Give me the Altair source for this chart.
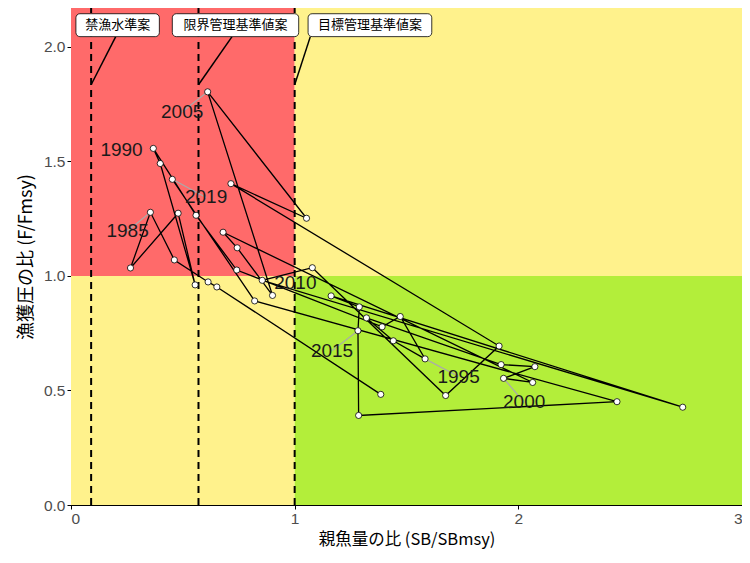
import altair as alt
import pandas as pd

years = list(range(1981, 2020))
sb_ratio = [1.385, 0.652, 0.613, 0.462, 0.355, 0.266, 0.479, 0.555, 0.399, 0.368,
            0.559, 0.741, 1.391, 1.472, 1.583, 1.441, 1.321, 1.923, 2.074, 1.934,
            2.064, 0.680, 0.743, 0.901, 0.611, 1.053, 0.715, 1.914, 1.675, 1.079,
            0.855, 2.735, 1.163, 1.289, 1.283, 1.286, 2.441, 0.821, 0.453]
f_ratio = [0.483, 0.952, 0.974, 1.070, 1.278, 1.035, 1.274, 0.961, 1.491, 1.557,
           1.265, 1.026, 0.778, 0.823, 0.638, 0.717, 0.817, 0.613, 0.604, 0.553,
           0.535, 1.191, 1.123, 0.915, 1.804, 1.252, 1.403, 0.694, 0.478, 1.036,
           0.981, 0.427, 0.913, 0.865, 0.761, 0.391, 0.451, 0.891, 1.422]

# reference points
ref_names = ["禁漁水準案", "限界管理基準値案", "目標管理基準値案"]
ref_values = [0.09, 0.57, 1.0]

# labelled years (text position) and whether a leader segment is drawn
label_years = [1985, 1990, 1995, 2000, 2005, 2010, 2015, 2019]
label_x = [0.253, 0.226, 1.733, 2.026, 0.497, 1.003, 1.167, 0.604]
label_y = [1.196, 1.552, 0.561, 0.448, 1.717, 0.970, 0.674, 1.343]
label_seg = [True, False, True, True, True, False, True, True]

X_MAX = 3.0
Y_MAX = 2.17

df = pd.DataFrame({"year": years, "sb": sb_ratio, "f": f_ratio})

zones = pd.DataFrame({
    "x": [0, 0, 1, 1], "x2": [1, 1, X_MAX, X_MAX],
    "y": [1, 0, 1, 0], "y2": [Y_MAX, 1, Y_MAX, 1],
    "zone": ["red", "yellow", "yellow2", "green"],
})
zone_colors = {"red": "#FF6A6A", "yellow": "#FFF28C", "yellow2": "#FFF28C", "green": "#B3EE3A"}
zones["color"] = zones["zone"].map(zone_colors)

xs = alt.Scale(domain=[0, X_MAX], nice=False, zero=False)
ys = alt.Scale(domain=[0, Y_MAX], nice=False, zero=False)

bg = alt.Chart(zones).mark_rect(opacity=1).encode(
    x=alt.X("x:Q", scale=xs, title="親魚量の比 (SB/SBmsy)",
            axis=alt.Axis(values=[0, 1, 2, 3], format="d", titleFontSize=16.5)),
    x2="x2:Q",
    y=alt.Y("y:Q", scale=ys, title="漁獲圧の比 (F/Fmsy)",
            axis=alt.Axis(values=[0, 0.5, 1.0, 1.5, 2.0], format=".1f", titleFontSize=18)),
    y2="y2:Q",
    color=alt.Color("color:N", scale=None),
)

refs = pd.DataFrame({"name": ref_names, "v": ref_values})
rules = alt.Chart(refs).mark_rule(color="black", strokeWidth=2, strokeDash=[7, 5]).encode(
    x=alt.X("v:Q", scale=xs),
    y=alt.datum(0),
    y2=alt.datum(Y_MAX),
)

# label boxes at top, with leader lines
box_x = [0.022, 0.453, 1.060]
box_x2 = [0.395, 1.018, 1.613]
box_cy = 2.095
boxes = pd.DataFrame({"name": ref_names, "v": ref_values, "bx": box_x, "bx2": box_x2})
boxes["by"] = box_cy - 0.05
boxes["by2"] = box_cy + 0.05
boxes["cx"] = (boxes["bx"] + boxes["bx2"]) / 2
boxes["lx"] = [0.20, 0.72, 1.07]
boxes["ly"] = box_cy - 0.05
boxes["ty"] = 1.835

leaders = alt.Chart(boxes).mark_rule(color="black", strokeWidth=1.5).encode(
    x=alt.X("lx:Q", scale=xs), y=alt.Y("ly:Q", scale=ys), x2="v:Q", y2="ty:Q"
)
box_rect = alt.Chart(boxes).mark_rect(fill="white", stroke="black", strokeWidth=0.8,
                                      cornerRadius=4).encode(
    x=alt.X("bx:Q", scale=xs), x2="bx2:Q", y=alt.Y("by:Q", scale=ys), y2="by2:Q"
)
box_text = alt.Chart(boxes).mark_text(font="Noto Sans CJK JP", fontSize=13, color="black").encode(
    x=alt.X("cx:Q", scale=xs), y=alt.Y("by:Q", scale=ys), text="name:N"
).transform_calculate(by=str(box_cy))

line = alt.Chart(df).mark_line(color="black", strokeWidth=1.3).encode(
    x=alt.X("sb:Q", scale=xs), y=alt.Y("f:Q", scale=ys), order="year:Q"
)
pts = alt.Chart(df).mark_point(filled=True, fill="white", stroke="black", strokeWidth=0.8,
                               size=38, opacity=1).encode(
    x=alt.X("sb:Q", scale=xs), y=alt.Y("f:Q", scale=ys)
)

lab = pd.DataFrame({"year": label_years, "lx": label_x, "ly": label_y, "seg": label_seg})
lab = lab.merge(df, on="year")
lab["txt"] = lab["year"].astype(str)
seg = alt.Chart(lab[lab["seg"]]).mark_rule(color="#AAAAAA", strokeWidth=1.2).encode(
    x=alt.X("sb:Q", scale=xs), y=alt.Y("f:Q", scale=ys), x2="lx:Q", y2="ly:Q"
)
year_text = alt.Chart(lab).mark_text(font="Liberation Sans", fontSize=19, color="#1a1a1a").encode(
    x=alt.X("lx:Q", scale=xs), y=alt.Y("ly:Q", scale=ys), text="txt:N"
)

chart = alt.layer(bg, rules, leaders, box_rect, box_text, line, seg, pts, year_text).properties(
    width=671, height=497,
    padding={"left": 63, "top": 0, "right": 0, "bottom": 50},
    autosize=alt.AutoSizeParams(type="none"),
).configure_axis(
    labelFont="Liberation Sans", labelFontSize=15.5, labelColor="#4D4D4D",
    titleFont="Noto Sans CJK JP", titleFontWeight="normal", titleColor="black",
    domainColor="black", tickColor="black", grid=False, tickSize=4,
).configure_axisY(titlePadding=8).configure_axisX(titlePadding=5).configure_view(
    stroke="#333333", strokeWidth=1
)

chart.save("out.html", embed_options={"renderer": "svg", "actions": False})
